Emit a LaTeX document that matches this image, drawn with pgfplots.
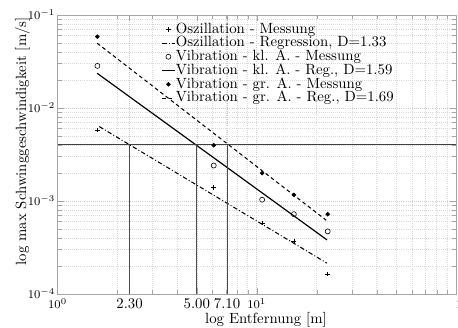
\documentclass[border=0pt]{standalone}
\usepackage{pgfplots}
\pgfplotsset{compat=1.18}
\begin{document}
\begin{tikzpicture}
\begin{axis}[
  name=ax,
  scale only axis, width=269.3pt, height=188.5pt,
  xmode=log, ymode=log,
  xmin=1, xmax=100, ymin=1e-4, ymax=1e-1,
  xtick={1,2.3,5,7.1,10,100},
  xticklabels={{\footnotesize$10^{0}$},$2.30$,$5.00$,$7.10$,{\footnotesize$10^{1}$},{\footnotesize\rlap{$10^{2}$}}},
  minor xtick={2,3,4,6,7,8,9,20,30,40,50,60,70,80,90},
  ytick={1e-4,1e-3,1e-2,1e-1},
  yticklabel style={font=\footnotesize, inner xsep=1.5pt},
  minor ytick={2e-4,3e-4,4e-4,5e-4,6e-4,7e-4,8e-4,9e-4,2e-3,3e-3,4e-3,5e-3,6e-3,7e-3,8e-3,9e-3,2e-2,3e-2,4e-2,5e-2,6e-2,7e-2,8e-2,9e-2},
  grid=both,
  major grid style={densely dotted, gray!40},
  minor grid style={densely dotted, gray!30},
  axis line style={gray!70},
  tick style={gray!70},
  xlabel={log Entfernung [m]},
  ylabel={log max Schwinggeschwindigkeit [m/s]},
  every axis x label/.style={at={(axis description cs:0.523,0)}, anchor=base, yshift=-20pt},
  every axis y label/.style={at={(axis description cs:0,0.547)}, xshift=-21.3pt, rotate=90, anchor=base},
  legend cell align=left,
  legend image code/.code={\draw[mark repeat=2,mark phase=2,#1] plot coordinates {(0cm,0cm) (0.15cm,0cm) (0.3cm,0cm)};},
  legend style={draw=none, fill=none, at={(axis description cs:0.249,0.985)}, anchor=north west,
    row sep=0pt, nodes={inner sep=0.3pt, text height=7pt, text depth=1.7pt}},
]
% Oszillation - Messung
\addplot[only marks, mark=+, mark size=1.6pt, black] coordinates {
 (1.585,0.0058) (6.08,0.0014) (10.64,0.00058) (15.35,0.00037) (22.7,0.000164)};
\addlegendentry{Oszillation - Messung}
% Oszillation - Regression
\addplot[black, line width=0.7pt, dash pattern=on 3pt off 1.5pt on 0.6pt off 1.5pt] coordinates {
 (1.62,0.0063) (22.5,0.000214)};
\addlegendentry{Oszillation - Regression, D=1.33}
% Vibration kl Messung
\addplot[only marks, mark=o, mark size=1.7pt, black] coordinates {
 (1.585,0.0283) (6.08,0.0024) (10.64,0.00103) (15.35,0.00072) (22.7,0.00047)};
\addlegendentry{Vibration - kl. A. - Messung}
% Vibration kl Reg
\addplot[black, line width=0.8pt] coordinates {
 (1.58,0.0236) (22.5,0.000381)};
\addlegendentry{Vibration - kl. A. - Reg., D=1.59}
% Vibration gr Messung
\addplot[only marks, mark=*, mark size=1.3pt, black] coordinates {
 (1.585,0.0585) (6.08,0.00397) (10.64,0.00199) (15.35,0.00116) (22.7,0.00072)};
\addlegendentry{Vibration - gr. A. - Messung}
% Vibration gr Reg
\addplot[black, line width=0.7pt, dash pattern=on 2.5pt off 2pt] coordinates {
 (1.58,0.0497) (22.3,0.00062)};
\addlegendentry{Vibration - gr. A. - Reg., D=1.69}
% reference lines
\addplot[gray!50!black, line width=0.6pt, forget plot] coordinates {(1,0.004) (100,0.004)};
\addplot[gray!60!black, line width=0.5pt, forget plot] coordinates {(2.3,1e-4) (2.3,0.004)};
\addplot[gray!60!black, line width=0.5pt, forget plot] coordinates {(5,1e-4) (5,0.004)};
\addplot[gray!60!black, line width=0.5pt, forget plot] coordinates {(7.1,1e-4) (7.1,0.004)};
\end{axis}
\pgfresetboundingbox
\path ([xshift=-38.9pt,yshift=-23pt]ax.south west) rectangle ([xshift=1.35pt,yshift=10.1pt]ax.north east);
\end{tikzpicture}
\end{document}
